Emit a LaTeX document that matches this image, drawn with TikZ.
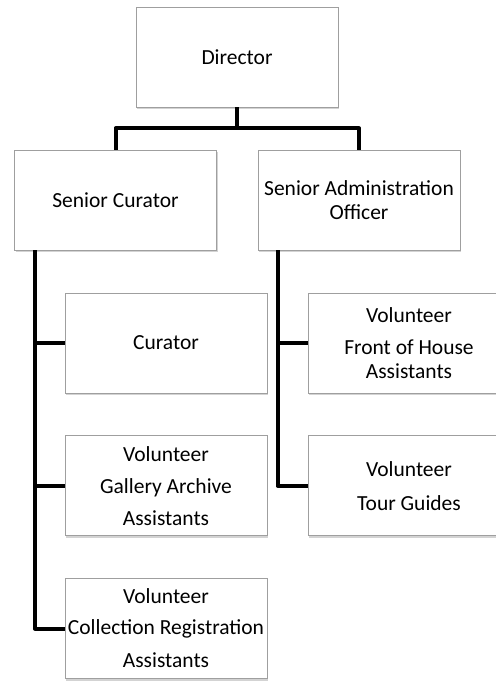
\documentclass[tikz,border=0pt]{standalone}
\usepackage{fontspec}
\setmainfont{Carlito}
\usetikzlibrary{positioning, shadows}

\begin{document}
\begin{tikzpicture}[x=1pt, y=-1pt, node distance=42pt,
    post/.style={draw=gray!75, line width=0.8pt, fill=white, align=center,
        minimum width=202pt, minimum height=100pt, inner sep=0pt,
        font=\fontsize{21.5}{24}\selectfont,
        drop shadow={shadow xshift=1pt, shadow yshift=-2pt, opacity=0.35}},
    link/.style={draw=black, line width=4pt, line join=round}]

    \useasboundingbox (0,0) rectangle (496,681);

    % Define the posts (nodes)
    \node[post] (dir) at (237,57) {Director}; % top of the chart
    \node[post] (scur) at (115.5,200) {Senior Curator};
    \node[post] (sadm) at (359,200) {Senior Administration\\Officer};
    \node[post] (cur) at (166,343) {Curator}; % left column
    \node[post, below=42pt of cur] (gal) {Volunteer\\[8pt]Gallery Archive\\[8pt]Assistants};
    \node[post, below=42pt of gal] (col) {Volunteer\\[7pt]Collection Registration\\[9pt]Assistants};
    \node[post] (foh) at (409,343) {Volunteer\\[8pt]Front of House\\Assistants}; % right column
    \node[post, below=42pt of foh] (tour) {Volunteer\\[10pt]Tour Guides};

    % Define the junctions
    \coordinate (jn) at ([yshift=-21pt]dir.south);
    \coordinate (lt) at ([xshift=21pt]scur.south west);
    \coordinate (rt) at ([xshift=20pt]sadm.south west);

    % Define the links (edges)
    \path[link]
    (dir.south) -- (jn)
    (scur.north) |- (jn) -| (sadm.north)
    (lt) |- (col.west)
    (lt |- cur.west) -- (cur.west)
    (lt |- gal.west) -- (gal.west)
    (rt) |- (tour.west)
    (rt |- foh.west) -- (foh.west);

\end{tikzpicture}
\end{document}
